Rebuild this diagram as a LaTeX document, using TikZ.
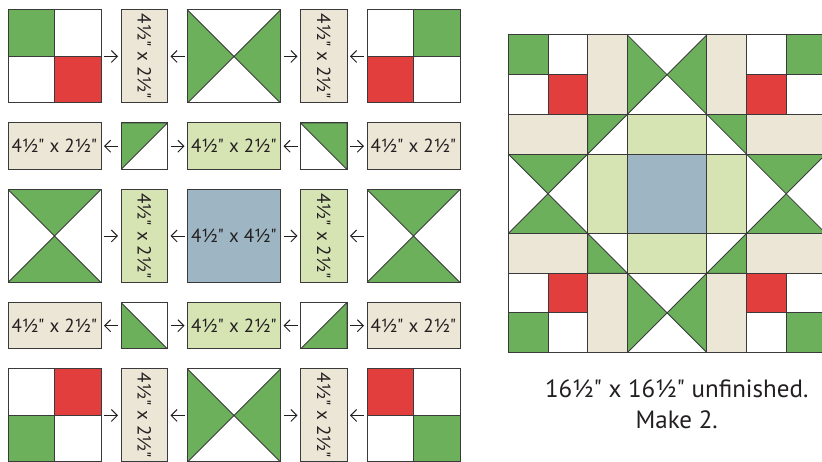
\documentclass[tikz,border=0pt]{standalone}
\usepackage{fontspec}
\setmainfont{PT Sans}[Ligatures=TeXOff]
\usetikzlibrary{arrows.meta}
\definecolor{qgreen}{HTML}{6CB05C}
\definecolor{qred}{HTML}{E33E3E}
\definecolor{beige}{HTML}{ECE6D6}
\definecolor{leaf}{HTML}{D6E4B4}
\definecolor{slate}{HTML}{9EB6C4}
\definecolor{seam}{HTML}{3A3A3A}
\definecolor{ink}{HTML}{231F20}
\newcommand{\ppb}{path picture bounding box}
\newcommand{\greentri}[3]{\filldraw[qgreen, draw=seam, line width=0.8pt] (\ppb.#1) -- (\ppb.#2) -- (\ppb.#3) -- cycle;}
\newcommand{\quarter}[2]{\fill[#1] (\ppb.#2) rectangle (\ppb.center);}
\tikzset{
  piece/.style={draw=seam, fill=white, line width=1pt, inner sep=0pt, outer sep=0pt},
  bar/.style={fill=beige},
  leafbar/.style={fill=leaf},
  centre/.style={fill=slate},
  four/.style n args={4}{path picture={%
    \quarter{#1}{north west}\quarter{#2}{north east}%
    \quarter{#3}{south west}\quarter{#4}{south east}%
    \draw[seam, line width=0.8pt] (\ppb.north) -- (\ppb.south) (\ppb.west) -- (\ppb.east);}},
  fourA/.style={four={qgreen}{white}{white}{qred}},
  fourB/.style={four={white}{qgreen}{qred}{white}},
  fourC/.style={four={white}{qred}{qgreen}{white}},
  fourD/.style={four={qred}{white}{white}{qgreen}},
  bowtie/.style={path picture={\greentri{north west}{center}{south west}\greentri{north east}{center}{south east}}},
  hourglass/.style={path picture={\greentri{north west}{north east}{center}\greentri{south west}{south east}{center}}},
  hstNW/.style={path picture={\greentri{south west}{north west}{north east}}},
  hstNE/.style={path picture={\greentri{north west}{north east}{south east}}},
  hstSW/.style={path picture={\greentri{north west}{south west}{south east}}},
  hstSE/.style={path picture={\greentri{south west}{south east}{north east}}},
  cut/.style={font=\fontsize{19}{23}\selectfont, text=ink, inner sep=0pt},
  note/.style={font=\fontsize{25}{30}\selectfont, text=ink, anchor=base},
  arr/.style={-{Straight Barb[length=6pt,width=12pt]}, draw=ink, line width=0.9pt,
    shorten <=3pt, shorten >=3pt}
}

\begin{document}
\begin{tikzpicture}[x=1pt, y=1pt]
  \useasboundingbox (0,0) rectangle (822,462);

  % exploded layout (L) and sewn block (B)
  \foreach \p/\ox/\oy/\sz/\st in {L/54.5/405.5/93/89.75, B/548/387.3/79.4/59.55}
    \foreach \rw/\cl/\kind in {0/0/fourA, 0/1/bar, 0/2/bowtie, 0/3/bar, 0/4/fourB,
        1/0/bar, 1/1/hstNW, 1/2/leafbar, 1/3/hstNE, 1/4/bar,
        2/0/hourglass, 2/1/leafbar, 2/2/centre, 2/3/leafbar, 2/4/hourglass,
        3/0/bar, 3/1/hstSW, 3/2/leafbar, 3/3/hstSE, 3/4/bar,
        4/0/fourC, 4/1/bar, 4/2/bowtie, 4/3/bar, 4/4/fourD}
      \node[piece, \kind,
        minimum width={\sz*(1-0.5*mod(\cl,2))},
        minimum height={\sz*(1-0.5*mod(\rw,2))}]
        (\p\rw\cl) at ({\ox+\cl*\st}, {\oy-\rw*\st}) {};

  % cut sizes
  \foreach \n in {01,03,21,23,41,43}
    \node[cut, rotate=-90] (T\n) at (L\n) {4½" x 2½"};
  \foreach \n in {10,12,14,30,32,34}
    \node[cut] (T\n) at (L\n) {4½" x 2½"};
  \node[cut] (T22) at (L22) {4½" x 4½"};

  % sewing arrows
  \foreach \rw in {0,...,4} {
    \foreach \cl [evaluate=\cl as \nx using int(\cl+1),
                  evaluate=\cl as \s using int(\rw+\cl)] in {0,...,3}
      {\ifodd\s \draw[arr] (L\rw\nx) -- (L\rw\cl);
       \else \draw[arr] (L\rw\cl) -- (L\rw\nx); \fi}
  }

  \node[note] (size) at (676.7, 64.3) {16½" x 16½" unfinished.};
  \node[note] (make) at (676.7, 33.7) {Make 2.};
\end{tikzpicture}
\end{document}
